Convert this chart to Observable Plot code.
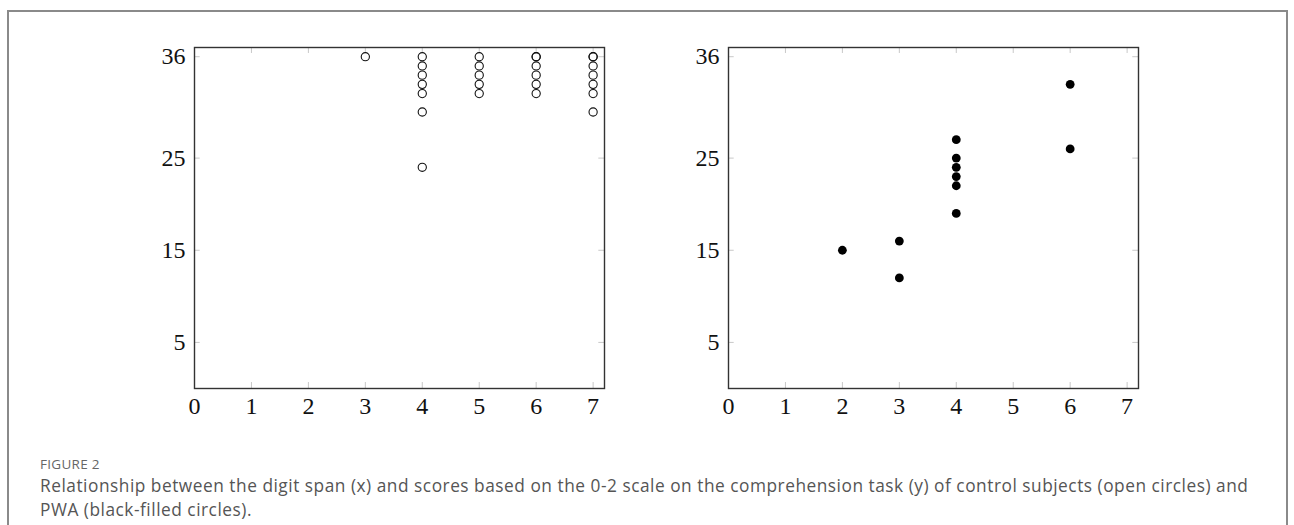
<!DOCTYPE html>
<html>
<head>
<meta charset="utf-8">
<script src="https://cdn.jsdelivr.net/npm/d3@7"></script>
<script src="https://cdn.jsdelivr.net/npm/@observablehq/plot@0.6"></script>
<style>
  html, body { margin: 0; padding: 0; background: #fff; }
  #page { position: relative; width: 1294px; height: 525px; overflow: hidden; }
  #box { position: absolute; left: 7px; top: 10px; width: 1281px; height: 560px; border: 2px solid #8a8a8a; box-sizing: border-box; }
  .panel { position: absolute; }
  #cap { position: absolute; left: 40px; top: 454px; font-family: "Open Sans", sans-serif; color: #555; white-space: nowrap; }
  #cap .lab { font-size: 13.5px; letter-spacing: 0.3px; color: #666; line-height: 20px; }
  #cap .txt { font-size: 17.3px; letter-spacing: 0.52px; line-height: 24px; }
</style>
</head>
<body>
<div id="page">
  <div id="box"></div>
  <div id="left" class="panel" style="left:150px; top:37px;"></div>
  <div id="right" class="panel" style="left:684px; top:37px;"></div>
  <div id="cap">
    <div class="lab">FIGURE 2</div>
    <div class="txt">Relationship between the digit span (x) and scores based on the 0-2 scale on the comprehension task (y) of control subjects (open circles) and<br>PWA (black-filled circles).</div>
  </div>
</div>
<script>
// Control subjects (open circles): digit span and score
const controlSpan  = [3, 4, 4, 4, 4, 4, 4, 4, 5, 5, 5, 5, 5, 6, 6, 6, 6, 6, 6, 7, 7, 7, 7, 7, 7, 7];
const controlScore = [36, 36, 35, 34, 33, 32, 30, 24, 36, 35, 34, 33, 32, 36, 36, 35, 34, 33, 32, 36, 36, 35, 34, 33, 32, 30];

// PWA (black-filled circles)
const pwaSpan  = [2, 3, 3, 4, 4, 4, 4, 4, 4, 6, 6];
const pwaScore = [15, 16, 12, 27, 25, 24, 23, 22, 19, 33, 26];

const xTicks = [0, 1, 2, 3, 4, 5, 6, 7];
const yTicks = [5, 15, 25, 36];

const control = controlSpan.map((x, i) => ({x, y: controlScore[i]}));
const pwa = pwaSpan.map((x, i) => ({x, y: pwaScore[i]}));

function panel(data, filled) {
  const xDom = [0, 7.2], yDom = [0, 37];
  return Plot.plot({
    width: 464,
    height: 381,
    marginLeft: 44,
    marginRight: 10,
    marginTop: 10,
    marginBottom: 30,
    style: { fontFamily: "'Liberation Serif', serif", fontSize: "24px", color: "#111", background: "transparent", overflow: "visible" },
    x: { domain: xDom, ticks: xTicks, tickSize: 0, tickPadding: 8, tickFormat: d => String(d), label: null },
    y: { domain: yDom, ticks: yTicks, tickSize: 0, tickPadding: 9, tickFormat: d => String(d), label: null },
    marks: [
      // inner tick marks (pgfplots style) on all four sides
      Plot.ruleX(xTicks, { y1: 0, y2: 0.65, stroke: "#c8c8c8", strokeWidth: 1 }),
      Plot.ruleX(xTicks, { y1: 37, y2: 36.35, stroke: "#c8c8c8", strokeWidth: 1 }),
      Plot.ruleY(yTicks, { x1: 0, x2: 0.1, stroke: "#c8c8c8", strokeWidth: 1 }),
      Plot.ruleY(yTicks, { x1: 7.2, x2: 7.1, stroke: "#c8c8c8", strokeWidth: 1 }),
      Plot.frame({ stroke: "#333", strokeWidth: 1.4 }),
      filled
        ? Plot.dot(data, { x: "x", y: "y", r: 4.4, fill: "#000", stroke: "none" })
        : Plot.dot(data, { x: "x", y: "y", r: 4.1, fill: "none", stroke: "#111", strokeWidth: 1.1 })
    ]
  });
}

document.getElementById("left").appendChild(panel(control, false));
document.getElementById("right").appendChild(panel(pwa, true));
</script>
</body>
</html>
